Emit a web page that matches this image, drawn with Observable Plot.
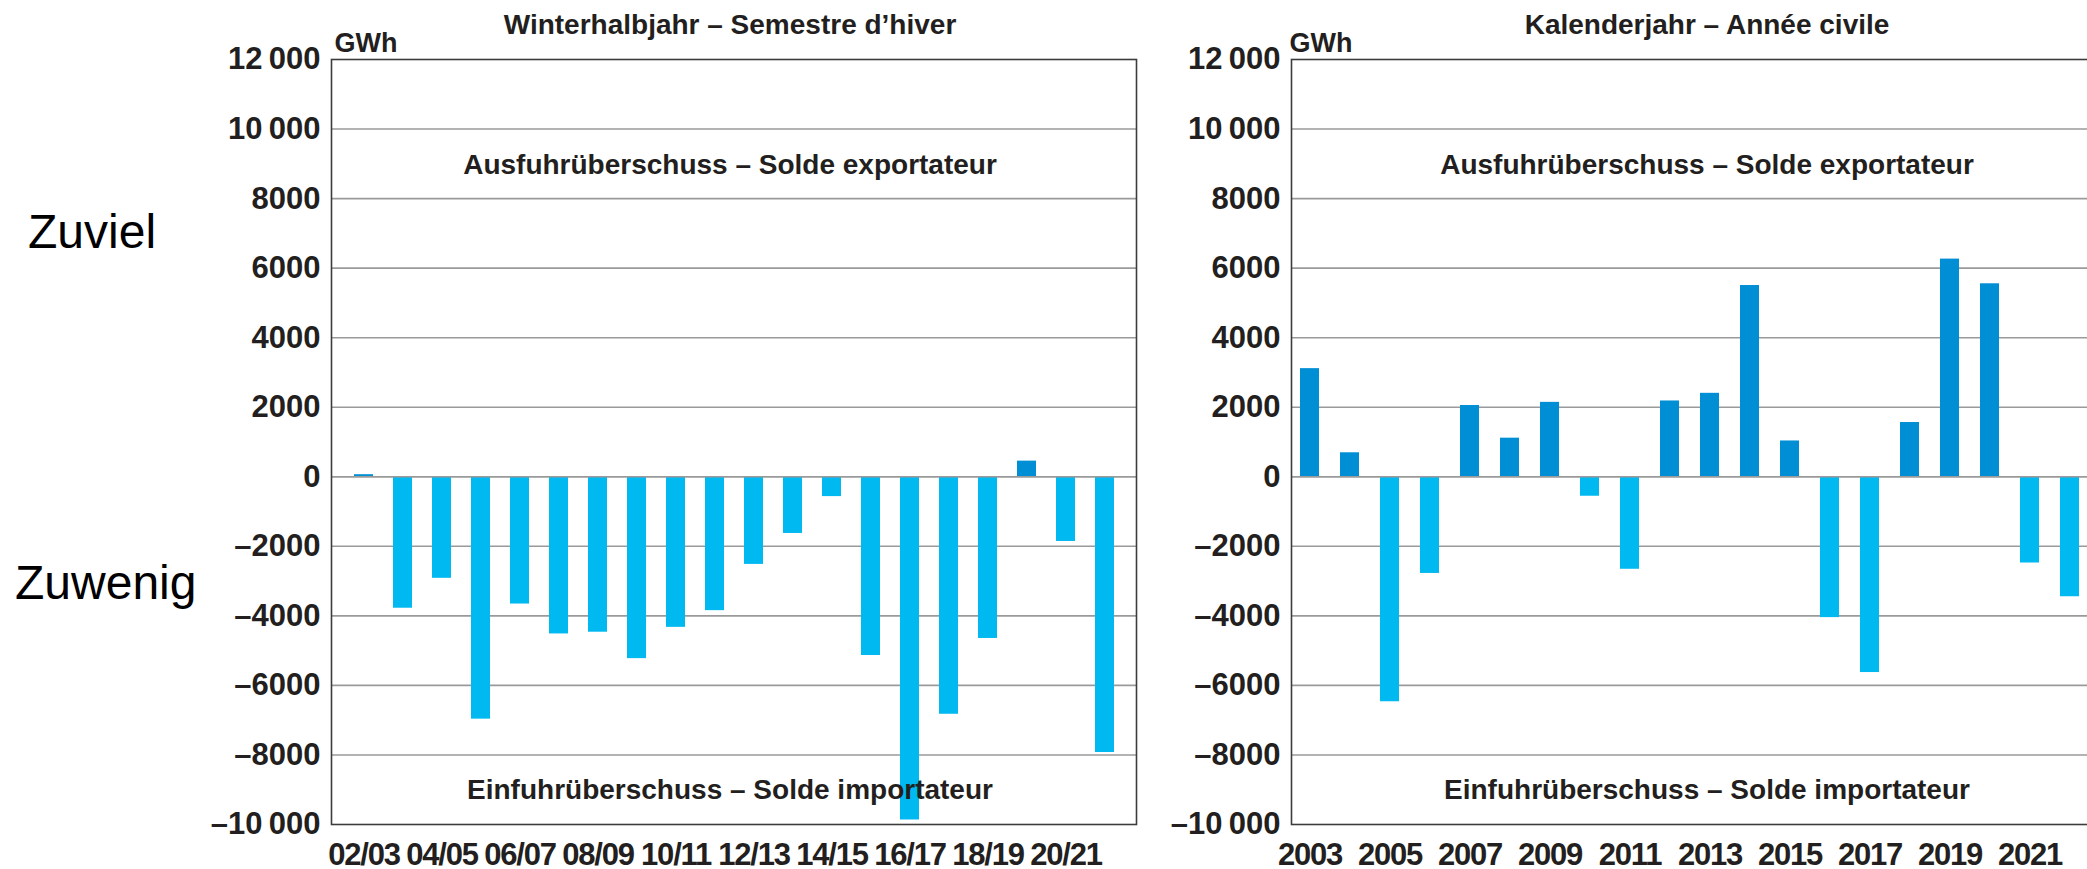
<!DOCTYPE html>
<html>
<head>
<meta charset="utf-8">
<script src="https://cdn.jsdelivr.net/npm/d3@7"></script>
<script src="https://cdn.jsdelivr.net/npm/@observablehq/plot@0.6"></script>
<style>
  html, body { margin: 0; padding: 0; background: #fff; }
  body { width: 2087px; height: 869px; overflow: hidden; position: relative; }
  .side { position: absolute; font-family: "Liberation Sans", Arial, sans-serif; font-size: 48px; line-height: 1; color: #000; white-space: nowrap; }
  .chart { position: absolute; top: 0; }
  .chart svg { max-width: none !important; height: 869px !important; }
  .chart g[aria-label="x-axis tick label"] text { letter-spacing: -1.2px; }
</style>
</head>
<body>
<div class="side" style="left:28px; top:208px;">Zuviel</div>
<div class="side" style="left:15px; top:559px;">Zuwenig</div>
<div id="left" class="chart" style="left:0px; width:1180px;"></div>
<div id="right" class="chart" style="left:1160px; width:948px;"></div>
<script>
// ---- data ----
const seasons = ["02/03","03/04","04/05","05/06","06/07","07/08","08/09","09/10","10/11","11/12",
                 "12/13","13/14","14/15","15/16","16/17","17/18","18/19","19/20","20/21","21/22"];
const winterValues = [60,-3780,-2920,-6970,-3660,-4520,-4470,-5230,-4330,-3850,
                      -2520,-1630,-570,-5140,-9870,-6830,-4650,450,-1860,-7930];
const seasonTicks = ["02/03","04/05","06/07","08/09","10/11","12/13","14/15","16/17","18/19","20/21"];

const years = ["2003","2004","2005","2006","2007","2008","2009","2010","2011","2012",
               "2013","2014","2015","2016","2017","2018","2019","2020","2021","2022"];
const yearValues = [3110,690,-6470,-2780,2050,1110,2140,-560,-2660,2180,
                    2400,5500,1030,-4050,-5630,1560,6260,5550,-2480,-3450];
const yearTicks = ["2003","2005","2007","2009","2011","2013","2015","2017","2019","2021"];

const yTicks = [-10000,-8000,-6000,-4000,-2000,0,2000,4000,6000,8000,10000,12000];

const leftTitle = "Winterhalbjahr – Semestre d’hiver";
const rightTitle = "Kalenderjahr – Année civile";
const exportLabel = "Ausfuhrüberschuss – Solde exportateur";
const importLabel = "Einfuhrüberschuss – Solde importateur";
const unitLabel = "GWh";

// ---- styling ----
const posColor = "#008fd5";
const negColor = "#00b9f0";
const textColor = "#231f20";
const font = "'Liberation Sans', Arial, sans-serif";

function fmt(d) {
  if (d === 0) return "0";
  const a = Math.abs(d);
  let s = String(a);
  if (a >= 10000) s = s.slice(0, s.length - 3) + "\u2009" + s.slice(-3);
  return (d < 0 ? "–" : "") + s;
}

function makeChart({cats, values, ticks, title, width, marginLeft, marginRight, paddingInner, paddingOuter, dxCenter, gwhDx}) {
  const data = cats.map((c, i) => ({cat: c, value: values[i]}));
  return Plot.plot({
    width,
    height: 869,
    marginTop: 59,
    marginBottom: 45,
    marginLeft,
    marginRight,
    style: {fontFamily: font, fontWeight: "bold", fontSize: "28px", color: textColor, background: "transparent", overflow: "visible"},
    x: {domain: cats, paddingInner, paddingOuter, axis: null},
    y: {domain: [-10000, 12000], axis: null},
    marks: [
      Plot.gridY(yTicks.filter(d => d !== 12000 && d !== -10000), {stroke: "#9a9a9a", strokeOpacity: 1, strokeWidth: 1.6}),
      Plot.barY(data.filter(d => d.value >= 0), {x: "cat", y: "value", fill: posColor}),
      Plot.barY(data.filter(d => d.value < 0), {x: "cat", y: "value", fill: negColor}),
      Plot.ruleY([0], {stroke: "#9a9a9a", strokeWidth: 1.6}),
      Plot.frame({stroke: "#3c3c3c", strokeWidth: 1.6}),
      Plot.axisY(yTicks, {tickSize: 0, tickPadding: 11, tickFormat: fmt, fontSize: 31, label: null}),
      Plot.axisX(ticks, {tickSize: 0, tickPadding: 18, fontSize: 31, label: null}),
      Plot.text([title], {frameAnchor: "top", lineAnchor: "middle", dy: -34, dx: dxCenter, fontSize: 28}),
      Plot.text([unitLabel], {frameAnchor: "top-left", textAnchor: "start", lineAnchor: "middle", dy: -16, dx: gwhDx, fontSize: 27}),
      Plot.text([exportLabel], {frameAnchor: "top", lineAnchor: "middle", dy: 106, dx: dxCenter, fontSize: 28}),
      Plot.text([importLabel], {frameAnchor: "bottom", lineAnchor: "middle", dy: -34, dx: dxCenter, fontSize: 28})
    ]
  });
}

document.getElementById("left").appendChild(makeChart({
  cats: seasons, values: winterValues, ticks: seasonTicks, title: leftTitle,
  width: 1180, marginLeft: 331, marginRight: 44, paddingInner: 0.515, paddingOuter: 0.35,
  dxCenter: -4, gwhDx: 3
}));
document.getElementById("right").appendChild(makeChart({
  cats: years, values: yearValues, ticks: yearTicks, title: rightTitle,
  width: 948, marginLeft: 131, marginRight: 20, paddingInner: 0.52, paddingOuter: 0.22,
  dxCenter: 17, gwhDx: -2
}));
</script>
</body>
</html>
